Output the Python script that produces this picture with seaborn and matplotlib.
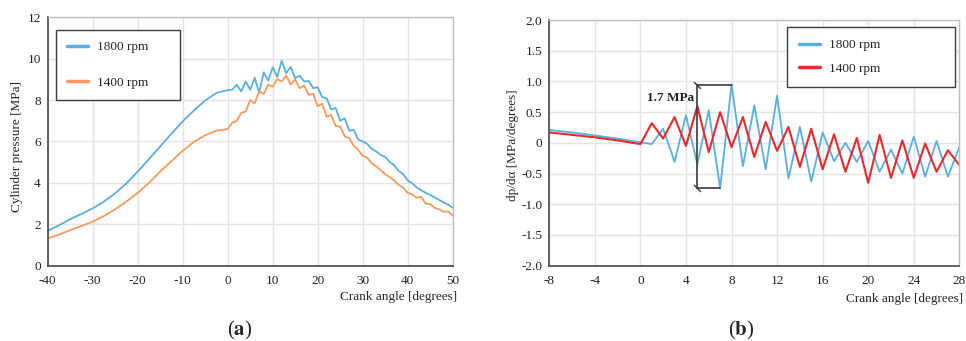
import numpy as np
import pandas as pd
import seaborn as sns
import matplotlib.pyplot as plt

# ---- data ----
# panel (a): cylinder pressure [MPa]
angle_a = [-40, -37.5, -35, -32.5, -30, -27.5, -25, -22.5, -20, -17.5, -15, -12.5,
           -10, -7.5, -5, -2.5] + list(range(0, 51))
p1800 = [1.68, 1.95, 2.25, 2.5, 2.77, 3.1, 3.5, 3.98, 4.55, 5.15, 5.76, 6.38,
         6.97, 7.5, 7.98, 8.35,
         8.48, 8.5, 8.74, 8.42, 8.9, 8.5, 9.08, 8.36, 9.34, 8.94, 9.58, 9.12, 9.9,
         9.3, 9.6, 9.06, 9.18, 8.9, 8.92, 8.58, 8.62, 8.15, 8.08, 7.55, 7.62, 7.0,
         7.12, 6.52, 6.56, 6.1, 6.0, 5.88, 5.65, 5.52, 5.35, 5.25, 5.02, 4.85, 4.58,
         4.42, 4.12, 3.98, 3.78, 3.65, 3.52, 3.42, 3.3, 3.18, 3.05, 2.95, 2.8]
p1400 = [1.32, 1.5, 1.72, 1.92, 2.13, 2.4, 2.73, 3.1, 3.52, 4.0, 4.55, 5.05,
         5.55, 5.98, 6.3, 6.52,
         6.6, 6.9, 7.0, 7.38, 7.45, 8.0, 7.85, 8.42, 8.3, 8.74, 8.64, 9.02, 8.9,
         9.18, 8.75, 9.0, 8.58, 8.7, 8.26, 8.3, 7.7, 7.82, 7.2, 7.28, 6.75, 6.72,
         6.25, 6.16, 5.8, 5.6, 5.3, 5.22, 4.95, 4.8, 4.62, 4.42, 4.28, 4.12, 3.9,
         3.78, 3.52, 3.45, 3.28, 3.32, 3.0, 2.98, 2.8, 2.72, 2.6, 2.62, 2.42]

# panel (b): dp/dalpha [MPa/degrees]
angle_b = [-8, -6, -4, -2, -1] + list(range(0, 29))
d1800 = [0.21, 0.17, 0.12, 0.07, 0.04,
         0.01, -0.02, 0.23, -0.31, 0.45, -0.35, 0.53, -0.74, 0.95, -0.38, 0.61,
         -0.43, 0.77, -0.58, 0.26, -0.63, 0.17, -0.3, 0.0, -0.31, 0.03, -0.47,
         -0.11, -0.5, 0.1, -0.55, 0.03, -0.55, -0.07]
d1400 = [0.17, 0.13, 0.09, 0.04, 0.01,
         -0.02, 0.32, 0.07, 0.42, -0.05, 0.6, -0.15, 0.5, -0.07, 0.42, -0.23,
         0.34, -0.13, 0.26, -0.39, 0.23, -0.43, 0.14, -0.47, 0.08, -0.65, 0.13,
         -0.57, 0.04, -0.57, -0.01, -0.47, -0.12, -0.36]

# the 1.7 MPa bracket
bracket_x = 5
bracket_top, bracket_top_end = 0.94, 8
bracket_bot, bracket_bot_end = -0.73, 7
bracket_text = '1.7 MPa'

xt_a = [-40, -30, -20, -10, 0, 10, 20, 30, 40, 50]
yt_a = [0, 2, 4, 6, 8, 10, 12]
xt_b = [-8, -4, 0, 4, 8, 12, 16, 20, 24, 28]
yt_b = [-2.0, -1.5, -1.0, -0.5, 0, 0.5, 1.0, 1.5, 2.0]
yt_b_labels = ['-2.0', '-1.5', '-1.0', '-0.5', '0', '0.5', '1.0', '1.5', '2.0']

c_blue = '#5aaee2'
c_orange = '#f99a5c'
c_red = '#e82a2e'

# ---- style ----
sns.set_theme(style='whitegrid')
plt.rcParams['font.family'] = ['Liberation Serif', 'DejaVu Serif']
plt.rcParams['mathtext.fontset'] = 'stix'
plt.rcParams['axes.unicode_minus'] = False
plt.rcParams['grid.color'] = '#e4e4e4'
plt.rcParams['grid.linewidth'] = 1.0

fig = plt.figure(figsize=(9.66, 3.41), dpi=100)
ax1 = fig.add_axes([0.0494, 0.2208, 0.4192, 0.7285])
ax2 = fig.add_axes([0.5686, 0.2208, 0.4245, 0.7205])

df_a = pd.DataFrame({'angle': angle_a, '1800 rpm': p1800, '1400 rpm': p1400})
df_b = pd.DataFrame({'angle': angle_b, '1800 rpm': d1800, '1400 rpm': d1400})

sns.lineplot(data=df_a, x='angle', y='1800 rpm', ax=ax1, color=c_blue, lw=1.3,
             label='1800 rpm', errorbar=None)
sns.lineplot(data=df_a, x='angle', y='1400 rpm', ax=ax1, color=c_orange, lw=1.3,
             label='1400 rpm', errorbar=None)

sns.lineplot(data=df_b, x='angle', y='1800 rpm', ax=ax2, color=c_blue, lw=1.3,
             label='1800 rpm', errorbar=None)
sns.lineplot(data=df_b, x='angle', y='1400 rpm', ax=ax2, color=c_red, lw=1.5,
             label='1400 rpm', errorbar=None)
for ln in ax2.get_lines():
    ln.set_solid_joinstyle('round')

# bracket
bk = '#3a3a3a'
ax2.plot([bracket_x, bracket_x], [bracket_bot, bracket_top], color=bk, lw=1.2)
ax2.plot([bracket_x, bracket_top_end], [bracket_top, bracket_top], color=bk, lw=1.2)
ax2.plot([bracket_x, bracket_bot_end], [bracket_bot, bracket_bot], color=bk, lw=1.2)
ax2.plot([bracket_x, bracket_x], [bracket_top, bracket_bot], ls='none',
         marker=(2, 0, 45), ms=7, mec=bk, mew=1.0)
ax2.text(bracket_x - 0.25, 0.73, bracket_text, ha='right', va='center',
         fontsize=9.5, fontweight='bold', color='#222222')

for ax, xt, yt in [(ax1, xt_a, yt_a), (ax2, xt_b, yt_b)]:
    ax.set_xticks(xt)
    ax.set_yticks(yt)
    ax.set_xlim(xt[0], xt[-1])
    ax.set_ylim(yt[0], yt[-1])
    ax.tick_params(length=0, labelsize=9.5, colors='#222222')
    ax.tick_params(axis='x', pad=7)
    ax.tick_params(axis='y', pad=5)
    ax.grid(True)
    ax.set_facecolor('white')
    for s in ['top', 'right']:
        ax.spines[s].set_color('#c0c0c0')
        ax.spines[s].set_linewidth(1.0)
    for s in ['left', 'bottom']:
        ax.spines[s].set_color('#555555')
        ax.spines[s].set_linewidth(1.3)

ax2.set_yticklabels(yt_b_labels)

ax1.set_xlabel('Crank angle [degrees]', loc='right', fontsize=9.5)
ax1.xaxis.set_label_coords(1.012, -0.10)
ax1.set_ylabel('Cylinder pressure [MPa]', fontsize=9.5)
ax1.yaxis.set_label_coords(-0.062, 0.48)

ax2.set_xlabel('Crank angle [degrees]', loc='right', fontsize=9.5)
ax2.xaxis.set_label_coords(1.01, -0.11)
ax2.set_ylabel('dp/d\u03b1 [MPa/degrees]', fontsize=9.5)
ax2.yaxis.set_label_coords(-0.075, 0.49)

leg1 = ax1.legend(loc='upper left', bbox_to_anchor=(0.0198, 0.670, 0.307, 0.279),
                  mode='expand', borderaxespad=0, fontsize=9.5, handlelength=1.6,
                  handletextpad=0.7, labelspacing=1.75, borderpad=0.85,
                  fancybox=False, framealpha=1)
leg2 = ax2.legend(loc='upper left', bbox_to_anchor=(0.579, 0.722, 0.411, 0.248),
                  mode='expand', borderaxespad=0, fontsize=9.5, handlelength=1.6,
                  handletextpad=0.7, labelspacing=0.85, borderpad=0.9,
                  fancybox=False, framealpha=1)
for leg in [leg1, leg2]:
    leg.get_frame().set_edgecolor('#3c3c3c')
    leg.get_frame().set_linewidth(1.0)
    for ln in leg.get_lines():
        ln.set_linewidth(2.5)

fig.text(240 / 966, 1 - 330 / 341, r'($\mathbf{a}$)', ha='center', va='center', fontsize=15)
fig.text(741 / 966, 1 - 330 / 341, r'($\mathbf{b}$)', ha='center', va='center', fontsize=15)

fig.savefig('out.png', dpi=100, facecolor='white')
